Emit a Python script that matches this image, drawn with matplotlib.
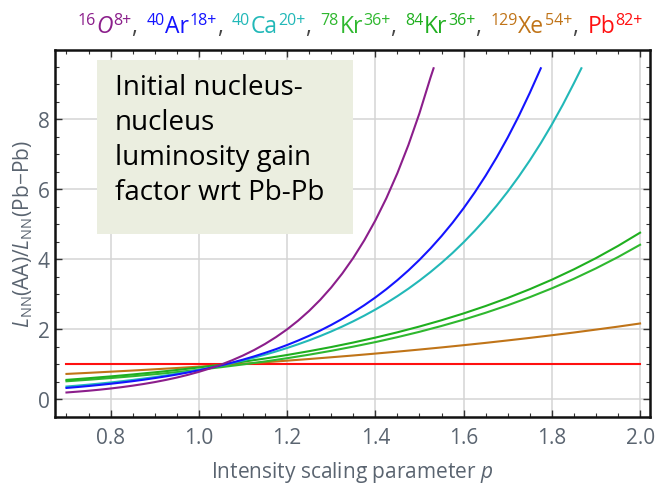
import matplotlib
matplotlib.use('Agg')
import matplotlib.pyplot as plt
from matplotlib.ticker import MultipleLocator
from matplotlib.patches import Rectangle

plt.rcParams['font.family'] = ['Open Sans', 'DejaVu Sans']
plt.rcParams['mathtext.fontset'] = 'custom'
plt.rcParams['mathtext.rm'] = 'Open Sans'
plt.rcParams['mathtext.it'] = 'Open Sans:italic'
plt.rcParams['mathtext.bf'] = 'Open Sans:bold'

# ---------------- data ----------------
p_O = [0.700, 0.725, 0.750, 0.775, 0.800, 0.825, 0.850, 0.875, 0.900, 0.925,
       0.950, 0.975, 1.000, 1.025, 1.050, 1.075, 1.100, 1.125, 1.150, 1.175,
       1.200, 1.225, 1.250, 1.275, 1.300, 1.325, 1.350, 1.375, 1.400, 1.425,
       1.450, 1.475, 1.500, 1.525, 1.532]
L_O = [0.190, 0.214, 0.240, 0.270, 0.304, 0.342, 0.385, 0.433, 0.487, 0.548,
       0.616, 0.693, 0.779, 0.876, 0.985, 1.108, 1.246, 1.401, 1.576, 1.773,
       1.993, 2.242, 2.521, 2.835, 3.189, 3.587, 4.034, 4.537, 5.103, 5.739,
       6.455, 7.260, 8.165, 9.183, 9.45]

p_Ar = [0.700, 0.725, 0.750, 0.775, 0.800, 0.825, 0.850, 0.875, 0.900, 0.925,
        0.950, 0.975, 1.000, 1.025, 1.050, 1.075, 1.100, 1.125, 1.150, 1.175,
        1.200, 1.225, 1.250, 1.275, 1.300, 1.325, 1.350, 1.375, 1.400, 1.425,
        1.450, 1.475, 1.500, 1.525, 1.550, 1.575, 1.600, 1.625, 1.650, 1.675,
        1.700, 1.725, 1.750, 1.775]
L_Ar = [0.320, 0.346, 0.375, 0.406, 0.439, 0.475, 0.513, 0.555, 0.601, 0.650,
        0.703, 0.761, 0.823, 0.890, 0.964, 1.043, 1.128, 1.220, 1.321, 1.429,
        1.546, 1.673, 1.810, 1.958, 2.119, 2.293, 2.480, 2.683, 2.903, 3.141,
        3.399, 3.677, 3.978, 4.304, 4.657, 5.038, 5.452, 5.899, 6.382, 6.905,
        7.471, 8.083, 8.745, 9.45]

p_Ca = [0.700, 0.725, 0.750, 0.775, 0.800, 0.825, 0.850, 0.875, 0.900, 0.925,
        0.950, 0.975, 1.000, 1.025, 1.050, 1.075, 1.100, 1.125, 1.150, 1.175,
        1.200, 1.225, 1.250, 1.275, 1.300, 1.325, 1.350, 1.375, 1.400, 1.425,
        1.450, 1.475, 1.500, 1.525, 1.550, 1.575, 1.600, 1.625, 1.650, 1.675,
        1.700, 1.725, 1.750, 1.775, 1.800, 1.825, 1.850, 1.867]
L_Ca = [0.360, 0.386, 0.414, 0.444, 0.476, 0.511, 0.548, 0.588, 0.630, 0.676,
        0.725, 0.778, 0.834, 0.894, 0.960, 1.030, 1.104, 1.184, 1.270, 1.362,
        1.461, 1.567, 1.680, 1.802, 1.933, 2.073, 2.224, 2.385, 2.558, 2.743,
        2.942, 3.155, 3.385, 3.630, 3.893, 4.175, 4.479, 4.804, 5.152, 5.526,
        5.926, 6.356, 6.817, 7.311, 7.842, 8.410, 9.020, 9.45]

p_full = [0.70, 0.75, 0.80, 0.85, 0.90, 0.95, 1.00, 1.05, 1.10, 1.15, 1.20,
          1.25, 1.30, 1.35, 1.40, 1.45, 1.50, 1.55, 1.60, 1.65, 1.70, 1.75,
          1.80, 1.85, 1.90, 1.95, 2.00]
L_Kr84 = [0.550, 0.598, 0.649, 0.705, 0.766, 0.833, 0.905, 0.983, 1.068, 1.160,
          1.261, 1.370, 1.488, 1.617, 1.757, 1.909, 2.074, 2.253, 2.448, 2.660,
          2.890, 3.140, 3.411, 3.707, 4.027, 4.376, 4.754]
L_Kr78 = [0.510, 0.554, 0.602, 0.654, 0.711, 0.772, 0.839, 0.912, 0.991, 1.076,
          1.169, 1.270, 1.380, 1.500, 1.629, 1.770, 1.923, 2.090, 2.270, 2.467,
          2.680, 2.912, 3.164, 3.437, 3.735, 4.058, 4.409]
L_Xe = [0.720, 0.751, 0.784, 0.817, 0.853, 0.889, 0.928, 0.968, 1.010, 1.053,
        1.099, 1.146, 1.196, 1.247, 1.301, 1.357, 1.416, 1.477, 1.541, 1.607,
        1.677, 1.749, 1.825, 1.903, 1.986, 2.071, 2.161]
L_Pb = [1.0] * len(p_full)

x_ticks = [0.8, 1.0, 1.2, 1.4, 1.6, 1.8, 2.0]
y_ticks = [0, 2, 4, 6, 8]

c_O, c_Ar, c_Ca = '#8b1e8b', '#1414ff', '#22b8b8'
c_Kr78, c_Kr84, c_Xe, c_Pb = '#2fb82f', '#1faf1f', '#c07418', '#ff1010'
label_gray = '#5a6470'

# ---------------- figure ----------------
W, H = 658, 489
fig = plt.figure(figsize=(W / 100, H / 100), dpi=100)
ax = fig.add_axes([55 / W, 71 / H, 595 / W, 367.3 / H])

lw = 1.5
ax.plot(p_full, L_Pb, color=c_Pb, lw=lw, zorder=3)
ax.plot(p_full, L_Xe, color=c_Xe, lw=lw, zorder=3)
ax.plot(p_full, L_Kr78, color=c_Kr78, lw=lw, zorder=3)
ax.plot(p_full, L_Kr84, color=c_Kr84, lw=lw, zorder=3)
ax.plot(p_Ca, L_Ca, color=c_Ca, lw=lw, zorder=3)
ax.plot(p_Ar, L_Ar, color=c_Ar, lw=lw, zorder=3)
ax.plot(p_O, L_O, color=c_O, lw=lw, zorder=3)

ax.set_xlim(0.674, 2.0225)
ax.set_ylim(-0.51, 9.98)
ax.set_xticks(x_ticks)
ax.set_xticklabels([f"{v:.1f}" for v in x_ticks])
ax.set_yticks(y_ticks)
ax.xaxis.set_minor_locator(MultipleLocator(0.05))
ax.yaxis.set_minor_locator(MultipleLocator(0.5))
ax.grid(True, which='major', color='#d4d4d4', lw=1.1, zorder=0)
ax.set_axisbelow(True)
ax.tick_params(which='both', direction='in', top=True, right=True,
               color='#333333', labelcolor=label_gray, labelsize=15)
ax.tick_params(which='major', length=5, width=1)
ax.tick_params(which='minor', length=3, width=0.8)
ax.tick_params(axis='x', pad=7)
ax.tick_params(axis='y', pad=4)
for s in ax.spines.values():
    s.set_linewidth(1.8)
    s.set_color('#111111')

ax.set_xlabel(r"Intensity scaling parameter $\mathit{p}$", fontsize=15,
              color=label_gray, labelpad=8)
ax.set_ylabel(r"$\mathit{L}_{\mathrm{NN}}$(AA)/$\mathit{L}_{\mathrm{NN}}$(Pb−Pb)",
              fontsize=15, color=label_gray, labelpad=2)

# ---------------- annotation box ----------------
fig.add_artist(Rectangle((97 / W, (H - 235) / H), 256 / W, 174 / H,
                         transform=fig.transFigure, facecolor='#ebeee0',
                         edgecolor='none', zorder=2))
fig.text(115 / W, (H - 74) / H,
         "Initial nucleus-\nnucleus\nluminosity gain\nfactor wrt Pb-Pb",
         fontsize=20, color='black', va='top', ha='left', linespacing=1.33,
         zorder=3)

# ---------------- coloured title (manual superscripts) ----------------
sep = '#444444'
pieces = [
    ("16", c_O, 1), ("O", c_O, 2), ("8+", c_O, 1), (", ", sep, 0),
    ("40", c_Ar, 1), ("Ar", c_Ar, 0), ("18+", c_Ar, 1), (", ", sep, 0),
    ("40", c_Ca, 1), ("Ca", c_Ca, 0), ("20+", c_Ca, 1), (", ", sep, 0),
    ("78", c_Kr78, 1), ("Kr", c_Kr78, 0), ("36+", c_Kr78, 1), (", ", sep, 0),
    ("84", c_Kr84, 1), ("Kr", c_Kr84, 0), ("36+", c_Kr84, 1), (", ", sep, 0),
    ("129", c_Xe, 1), ("Xe", c_Xe, 0), ("54+", c_Xe, 1), (", ", sep, 0),
    ("Pb", c_Pb, 0), ("82+", c_Pb, 1),
]
fs_main, fs_sup, rise = 16.5, 11.5, 8.0
base_px = H - 33
renderer = fig.canvas.get_renderer()
objs = []
for s, c, kind in pieces:
    size = fs_sup if kind == 1 else fs_main
    style = 'italic' if kind == 2 else 'normal'
    y = base_px + (rise if kind == 1 else 0)
    t = fig.text(0, y / H, s, color=c, fontsize=size, style=style,
                 va='baseline', ha='left')
    w = t.get_window_extent(renderer).width
    if s.endswith(' '):
        w += 2
    objs.append((t, w))
total = sum(w for _, w in objs)
x = 354 - total / 2
for t, w in objs:
    t.set_x(x / W)
    x += w + 0.5

fig.savefig('out.png', dpi=100)
